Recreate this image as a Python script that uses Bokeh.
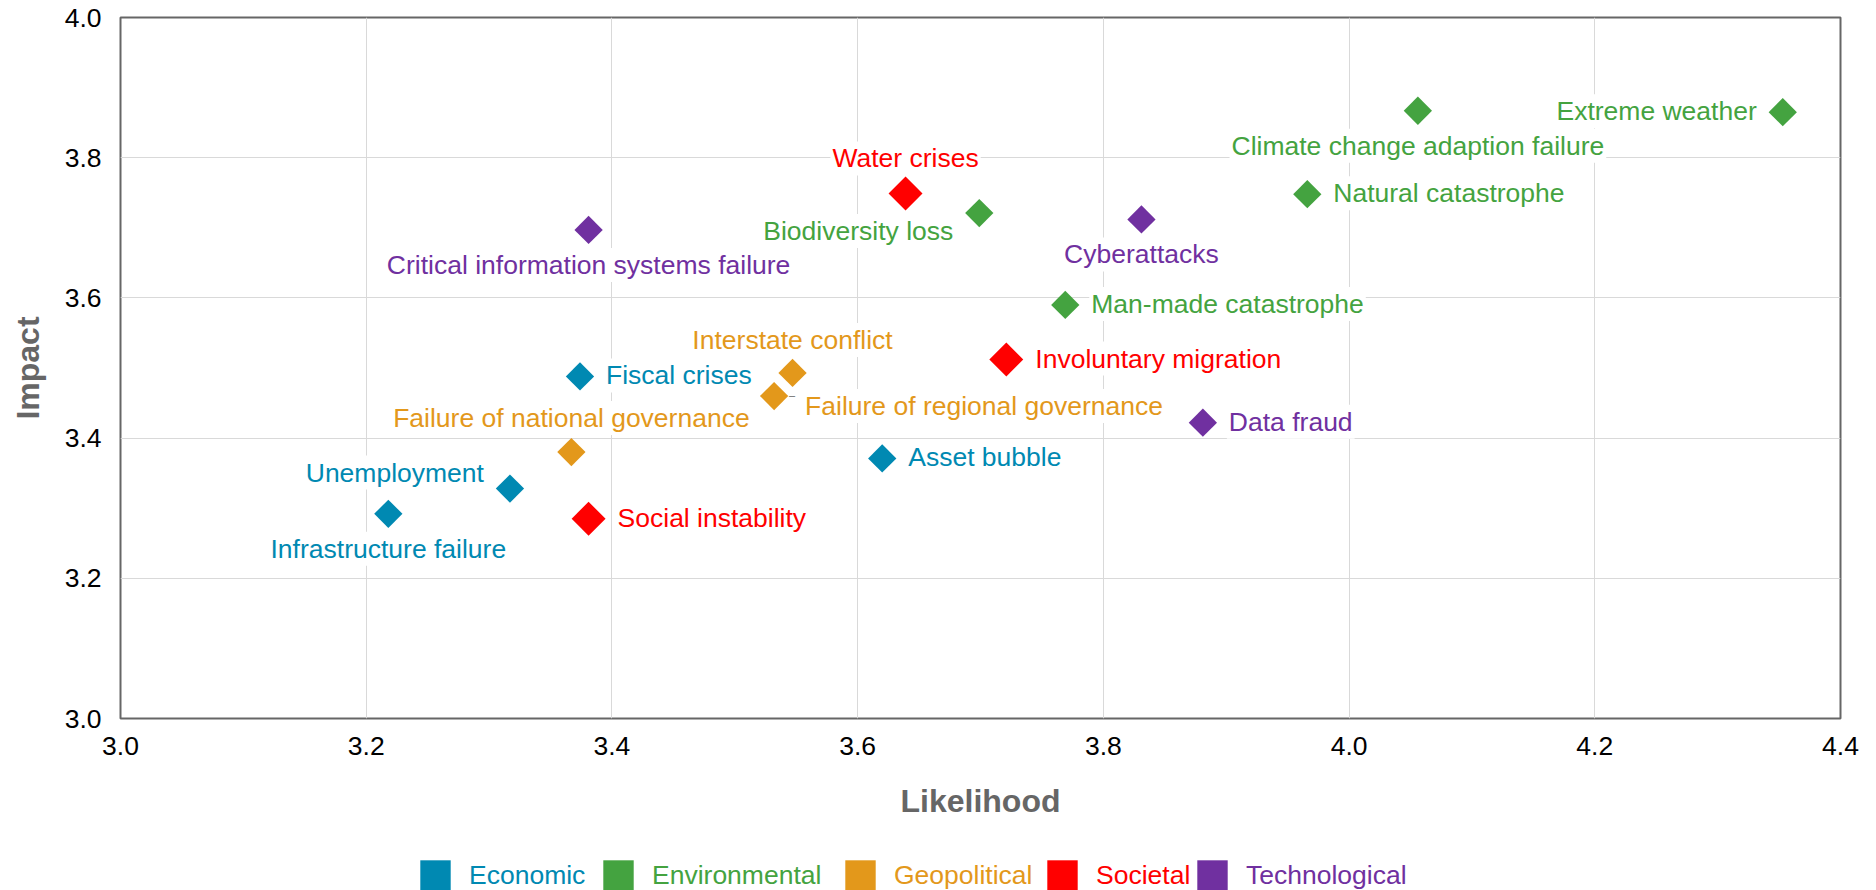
from bokeh.plotting import figure
from bokeh.layouts import column
from bokeh.models import Label, Legend, LegendItem, FixedTicker, Range1d, PrintfTickFormatter
from bokeh.embed import file_html
from bokeh.resources import INLINE
import numpy as np

# ---------------- data ----------------
risks = [
    "Extreme weather", "Climate change adaption failure", "Natural catastrophe",
    "Man-made catastrophe", "Cyberattacks", "Water crises", "Biodiversity loss",
    "Involuntary migration", "Data fraud", "Interstate conflict",
    "Failure of regional governance", "Fiscal crises", "Failure of national governance",
    "Unemployment", "Infrastructure failure", "Social instability", "Asset bubble",
    "Critical information systems failure",
]
likelihood = [4.353, 4.056, 3.966, 3.769, 3.831, 3.639, 3.699, 3.721, 3.881, 3.547,
              3.532, 3.374, 3.367, 3.317, 3.218, 3.381, 3.620, 3.381]
impact = [3.865, 3.867, 3.748, 3.590, 3.712, 3.749, 3.721, 3.512, 3.422, 3.493,
          3.460, 3.488, 3.380, 3.328, 3.292, 3.285, 3.371, 3.697]
category = ["Environmental", "Environmental", "Environmental", "Environmental",
            "Technological", "Societal", "Environmental", "Societal", "Technological",
            "Geopolitical", "Geopolitical", "Economic", "Geopolitical", "Economic",
            "Economic", "Societal", "Economic", "Technological"]
categories = ["Economic", "Environmental", "Geopolitical", "Societal", "Technological"]
x_ticks = [3.0, 3.2, 3.4, 3.6, 3.8, 4.0, 4.2, 4.4]
y_ticks = [3.0, 3.2, 3.4, 3.6, 3.8, 4.0]

# ---------------- styles ----------------
colors = {
    "Economic": "#0089B2",
    "Environmental": "#44A340",
    "Geopolitical": "#E3981B",
    "Societal": "#FF0000",
    "Technological": "#7030A0",
}
FONT = "Liberation Sans"
LABEL_SIZE = "26.5px"

# label placement per risk: (align, dx px, dy px, positive = up, leader dash)
placement = {
    "Extreme weather": ("right", -24, 1, False),
    "Climate change adaption failure": ("center", 0, -35, False),
    "Natural catastrophe": ("left", 24, 1, False),
    "Man-made catastrophe": ("left", 24, 1, False),
    "Cyberattacks": ("center", 0, -35, False),
    "Water crises": ("center", 0, 35, False),
    "Biodiversity loss": ("right", -24, -18, False),
    "Involuntary migration": ("left", 27, 1, False),
    "Data fraud": ("left", 24, 1, False),
    "Interstate conflict": ("center", 0, 33, False),
    "Failure of regional governance": ("left", 29, -10, True),
    "Fiscal crises": ("left", 24, 1, False),
    "Failure of national governance": ("center", 0, 34, False),
    "Unemployment": ("right", -24, 16, False),
    "Infrastructure failure": ("center", 0, -35, False),
    "Social instability": ("left", 27, 1, False),
    "Asset bubble": ("left", 24, 1, False),
    "Critical information systems failure": ("center", 0, -35, False),
}

p = figure(width=1876, height=846, output_backend="svg", toolbar_location=None,
           x_range=Range1d(3.0, 4.4), y_range=Range1d(3.0, 4.0),
           min_border_left=120, min_border_right=36, min_border_top=17,
           min_border_bottom=128)

p.outline_line_color = "#666666"
p.outline_line_width = 2
p.background_fill_color = "white"
p.border_fill_color = "white"

p.xaxis.ticker = FixedTicker(ticks=x_ticks)
p.yaxis.ticker = FixedTicker(ticks=y_ticks)
p.xaxis.formatter = PrintfTickFormatter(format="%.1f")
p.yaxis.formatter = PrintfTickFormatter(format="%.1f")
for ax in (p.xaxis[0], p.yaxis[0]):
    ax.axis_line_color = None
    ax.major_tick_line_color = None
    ax.minor_tick_line_color = None
    ax.major_tick_out = 0
    ax.major_tick_in = 0
    ax.major_label_text_font = FONT
    ax.major_label_text_font_size = LABEL_SIZE
    ax.major_label_text_color = "#000000"
    ax.axis_label_text_font = FONT
    ax.axis_label_text_font_size = "32px"
    ax.axis_label_text_font_style = "bold"
    ax.axis_label_text_color = "#666666"
p.xaxis.axis_label = "Likelihood"
p.yaxis.axis_label = "Impact"
p.xaxis.major_label_standoff = 18
p.yaxis.major_label_standoff = 19
p.xaxis.axis_label_standoff = 25
p.yaxis.axis_label_standoff = 16

p.grid.grid_line_color = "#d9d9d9"
p.grid.grid_line_width = 1

# markers (diamonds = rotated squares)
for cat in categories:
    idx = [i for i, c in enumerate(category) if c == cat]
    size = 24 if cat == "Societal" else 20
    p.scatter(x=[likelihood[i] for i in idx], y=[impact[i] for i in idx],
              marker="square", angle=np.pi / 4, size=size,
              fill_color=colors[cat], line_color=None)

# labels
for name, x, y, cat in zip(risks, likelihood, impact, category):
    align, dx, dy, leader = placement[name]
    if leader:
        p.add_layout(Label(x=x, y=y, text="\u2013", x_offset=18, y_offset=1,
                           text_align="center", text_baseline="middle",
                           text_font=FONT, text_font_size="11px",
                           text_color="#666666"))
    p.add_layout(Label(x=x, y=y, text=name, x_offset=dx, y_offset=dy,
                       text_align=align, text_baseline="middle",
                       text_font=FONT, text_font_size=LABEL_SIZE,
                       text_color=colors[cat],
                       background_fill_color="white", padding=2))

# legend strip below the chart: one legend per category so each label keeps its colour
lf = figure(width=1876, height=44, output_backend="svg", toolbar_location=None,
            x_range=Range1d(0, 1), y_range=Range1d(0, 1),
            x_axis_type=None, y_axis_type=None,
            min_border_left=120, min_border_right=36, min_border_top=0, min_border_bottom=0)
lf.outline_line_color = None
lf.grid.visible = False
legend_x = [296, 479, 721, 923, 1073]   # offsets from the frame's left edge, px
for cat, lx in zip(categories, legend_x):
    # zero-area swatch renderer: only its legend glyph is visible
    r = lf.quad(left=[0], right=[0], top=[0], bottom=[0], fill_color=colors[cat],
                line_color=None)
    lg = Legend(items=[LegendItem(label=cat, renderers=[r])],
                location=(lx, -4), orientation="horizontal",
                glyph_width=38, glyph_height=38, label_standoff=15,
                padding=0, margin=0, border_line_color=None,
                background_fill_alpha=0,
                label_text_font=FONT, label_text_font_size=LABEL_SIZE,
                label_text_color=colors[cat])
    lf.add_layout(lg)

open("out.html", "w").write(file_html(column(p, lf, spacing=0), INLINE))
